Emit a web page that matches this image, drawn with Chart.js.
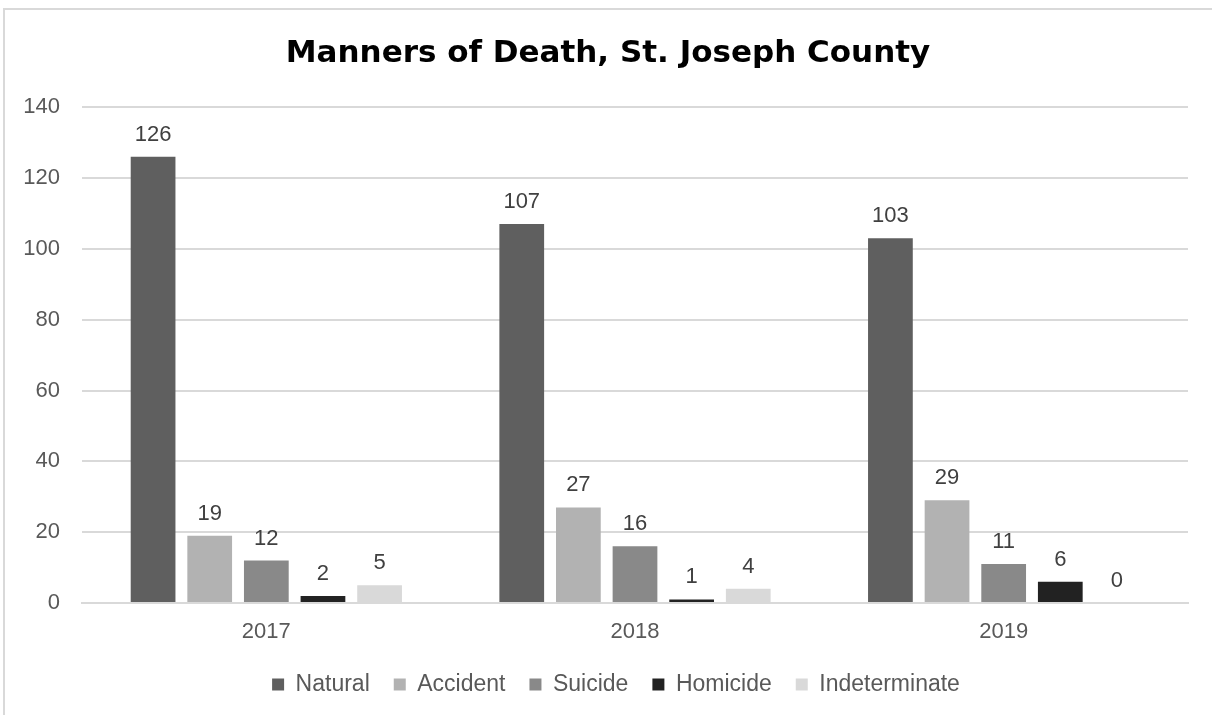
<!DOCTYPE html>
<html>
<head>
<meta charset="utf-8">
<script src="https://cdn.jsdelivr.net/npm/chart.js@4.4.0/dist/chart.umd.min.js"></script>
<style>
  html, body { margin: 0; padding: 0; background: #fff; overflow: hidden; }
  #marco {
    position: absolute; left: 3px; top: 8px;
    width: 1220px; height: 720px;
    border: 2px solid #d9d9d9; box-sizing: border-box;
  }
  #grafico { position: absolute; left: 0; top: 0; }
</style>
</head>
<body>
<div id="marco"></div>
<canvas id="grafico" width="1212" height="715"></canvas>
<script>
// Datos del gráfico
const years = ["2017", "2018", "2019"];
const natural = [126, 107, 103];
const accident = [19, 27, 29];
const suicide = [12, 16, 11];
const homicide = [2, 1, 6];
const indeterminate = [5, 4, 0];
const yTicks = [0, 20, 40, 60, 80, 100, 120, 140];

const series = [
  { label: "Natural", data: natural, color: "#5f5f5f" },
  { label: "Accident", data: accident, color: "#b2b2b2" },
  { label: "Suicide", data: suicide, color: "#898989" },
  { label: "Homicide", data: homicide, color: "#222222" },
  { label: "Indeterminate", data: indeterminate, color: "#d9d9d9" },
];

// etiquetas encima de cada barra
const valueLabels = {
  id: "valueLabels",
  afterLayout(chart) {
    // leyenda y título un poco a la derecha, como en el original
    chart.legend.left += 22;
    chart.legend.right += 22;
    chart.titleBlock.left += 14;
    chart.titleBlock.right += 14;
  },
  afterDatasetsDraw(chart) {
    const ctx = chart.ctx;
    ctx.save();
    ctx.font = "22px 'Liberation Sans', Arial, sans-serif";
    ctx.fillStyle = "#404040";
    ctx.textAlign = "center";
    ctx.textBaseline = "alphabetic";
    chart.data.datasets.forEach((ds, i) => {
      chart.getDatasetMeta(i).data.forEach((bar, j) => {
        ctx.fillText(ds.data[j], bar.x, bar.y - 16);
      });
    });
    ctx.restore();
  },
};

new Chart(document.getElementById("grafico"), {
  type: "bar",
  data: {
    labels: years,
    datasets: series.map((s) => ({
      label: s.label,
      data: s.data,
      backgroundColor: s.color,
      borderWidth: 0,
      categoryPercentage: 0.768,
      barPercentage: 0.79,
    })),
  },
  options: {
    responsive: false,
    animation: false,
    devicePixelRatio: 1,
    layout: { padding: { left: 0, right: 24, top: 0, bottom: 9 } },
    scales: {
      x: {
        grid: { display: false },
        border: { color: "#d9d9d9", width: 2 },
        ticks: {
          color: "#595959",
          padding: 8,
          font: { family: "'Liberation Sans', Arial, sans-serif", size: 22 },
        },
        afterFit: (scale) => { scale.height = 46; },
      },
      y: {
        min: 0,
        max: 140,
        afterBuildTicks: (scale) => { scale.ticks = yTicks.map((v) => ({ value: v })); },
        grid: { color: "#d9d9d9", lineWidth: 2, drawTicks: false },
        border: { display: false },
        ticks: {
          color: "#595959",
          padding: 22,
          font: { family: "'Liberation Sans', Arial, sans-serif", size: 22 },
        },
        afterFit: (scale) => { scale.width = 82; },
      },
    },
    plugins: {
      title: {
        display: true,
        text: "Manners of Death, St. Joseph County",
        color: "#000000",
        font: { family: "'DejaVu Sans', sans-serif", size: 31, weight: "bold" },
        padding: { top: 35, bottom: 35 },
      },
      legend: {
        position: "bottom",
        labels: {
          color: "#595959",
          boxWidth: 12,
          boxHeight: 12,
          padding: 24,
          font: { family: "'Liberation Sans', Arial, sans-serif", size: 23 },
        },
      },
      tooltip: { enabled: false },
    },
  },
  plugins: [valueLabels],
});
</script>
</body>
</html>
